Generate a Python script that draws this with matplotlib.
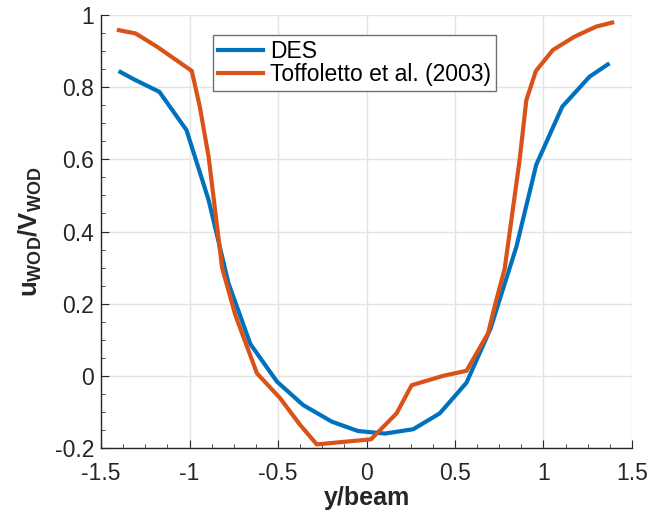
import numpy as np
import matplotlib
matplotlib.use('Agg')
import matplotlib.pyplot as plt
from matplotlib.ticker import MultipleLocator, FuncFormatter

plt.rcParams['font.family'] = ['Liberation Sans', 'DejaVu Sans']
plt.rcParams['axes.unicode_minus'] = False
plt.rcParams['mathtext.fontset'] = 'custom'
plt.rcParams['mathtext.rm'] = 'Liberation Sans'
plt.rcParams['mathtext.bf'] = 'Liberation Sans:bold'

# DES result
des_x = [-1.39, -1.315, -1.17, -1.017, -0.892, -0.78, -0.656, -0.506, -0.358, -0.196,
         -0.048, 0.104, 0.264, 0.414, 0.565, 0.70, 0.847, 0.959, 1.106, 1.26, 1.363]
des_y = [0.842, 0.822, 0.787, 0.681, 0.487, 0.257, 0.088, -0.016, -0.081, -0.127,
         -0.153, -0.160, -0.148, -0.104, -0.019, 0.13, 0.358, 0.585, 0.746, 0.829, 0.863]

# Toffoletto et al. (2003) experiment
exp_x = [-1.399, -1.305, -1.183, -0.987, -0.942, -0.892, -0.816, -0.741, -0.619, -0.488,
         -0.375, -0.281, 0.025, 0.17, 0.255, 0.433, 0.565, 0.687, 0.724, 0.781,
         0.865, 0.903, 0.957, 1.053, 1.175, 1.298, 1.388]
exp_y = [0.958, 0.949, 0.912, 0.845, 0.746, 0.607, 0.300, 0.168, 0.007, -0.062,
         -0.136, -0.19, -0.176, -0.104, -0.026, 0.0, 0.014, 0.118, 0.192, 0.298,
         0.598, 0.764, 0.845, 0.903, 0.94, 0.968, 0.979]

fig = plt.figure(figsize=(6.5, 5.16), dpi=100)
ax = fig.add_axes([0.1554, 0.1318, 0.8169, 0.8391])

ax.plot(des_x, des_y, color='#0072BD', lw=3, label='DES')
ax.plot(exp_x, exp_y, color='#D95319', lw=3, label='Toffoletto et al. (2003)')

ax.set_xlim(-1.5, 1.5)
ax.set_ylim(-0.2, 1.0)
ax.xaxis.set_major_locator(MultipleLocator(0.5))
ax.xaxis.set_minor_locator(MultipleLocator(0.125))
ax.yaxis.set_major_locator(MultipleLocator(0.2))
ax.yaxis.set_minor_locator(MultipleLocator(0.05))

fmt = FuncFormatter(lambda v, p: ('%.2f' % v).rstrip('0').rstrip('.') if abs(v) > 1e-9 else '0')
ax.xaxis.set_major_formatter(fmt)
ax.yaxis.set_major_formatter(fmt)

ax.grid(True, which='major', color='#e3e3e3', lw=1)
ax.set_axisbelow(True)
for s in ['top', 'right']:
    ax.spines[s].set_visible(False)
for s in ['left', 'bottom']:
    ax.spines[s].set_color('#262626')
    ax.spines[s].set_linewidth(1)
ax.tick_params(which='both', direction='in', colors='#262626', labelsize=16.5, top=False, right=False)
ax.tick_params(which='major', length=6)
ax.tick_params(which='minor', length=3)
ax.tick_params(axis='y', which='major', pad=5)
ax.tick_params(axis='x', which='major', pad=10)

ax.set_xlabel('y/beam', fontsize=18, fontweight='bold', color='#262626', labelpad=1)
ax.set_ylabel(r'$\mathbf{u_{WOD}/V_{WOD}}$', fontsize=18.5, color='#262626', labelpad=8)

leg = ax.legend(loc='upper left', bbox_to_anchor=(0.211, 0.953), borderaxespad=0,
                fontsize=16.5, fancybox=False, framealpha=1, edgecolor='#707070',
                handlelength=2.0, handletextpad=0.3, borderpad=0.2, labelspacing=0.0)
leg.get_frame().set_linewidth(1)

fig.savefig('out.png', dpi=100)
